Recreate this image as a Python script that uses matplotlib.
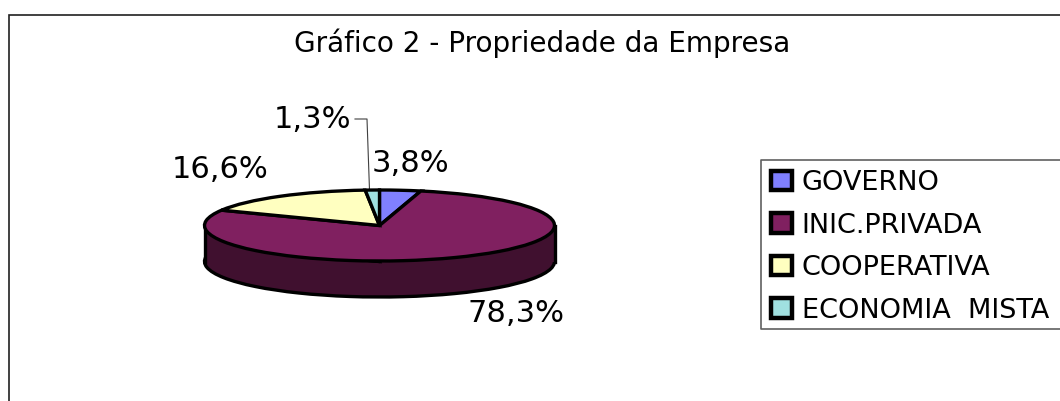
import matplotlib
matplotlib.use("Agg")
import matplotlib.pyplot as plt
import numpy as np
from matplotlib.patches import Rectangle

plt.rcParams['font.family'] = ['DejaVu Sans']

categories = ["GOVERNO", "INIC.PRIVADA", "COOPERATIVA", "ECONOMIA  MISTA"]
values = [3.8, 78.3, 16.6, 1.3]
value_labels = ["3,8%", "78,3%", "16,6%", "1,3%"]
title = "Gráfico 2 - Propriedade da Empresa"
top_colors = ["#8080FF", "#802060", "#FFFFC0", "#A0E0E0"]
side_color = "#40102F"

W, H = 1060, 401
fig = plt.figure(figsize=(W / 100, H / 100), dpi=100, facecolor="white")
bg = fig.add_axes([0, 0, 1, 1])
bg.set_xlim(0, W); bg.set_ylim(H, 0); bg.axis("off")

# outer frame: left and top only, running off the picture
bg.plot([8.5, 8.5, W + 5], [H + 5, 14.5, 14.5], color="#202020", lw=1.2, solid_joinstyle="miter")

# pie axes
rx, ry, depth = 175, 35.5, 36
cx, cy = 379.5, 225.5
ax = fig.add_axes([(cx - rx) / W, 1 - (cy + ry + depth) / H, 2 * rx / W, (2 * ry + depth) / H])
d = depth / ry
lw = 2.4
ax.pie(values, colors=[side_color] * 4, startangle=90, counterclock=False, center=(0, -d),
       radius=1, wedgeprops=dict(edgecolor="black", linewidth=lw, clip_on=False), normalize=True, frame=True)
ax.add_patch(Rectangle((-1, -d), 2, d, facecolor=side_color, edgecolor="none", zorder=2))
ax.plot([-1, -1], [-d, 0], color="black", lw=lw, zorder=3, clip_on=False)
ax.plot([1, 1], [-d, 0], color="black", lw=lw, zorder=3, clip_on=False)
wedges, _ = ax.pie(values, colors=top_colors, startangle=90, counterclock=False, center=(0, 0),
                   radius=1, wedgeprops=dict(edgecolor="black", linewidth=lw, clip_on=False, zorder=4),
                   normalize=True, frame=True)
ax.set_aspect("auto")
ax.set_xlim(-1, 1); ax.set_ylim(-1 - d, 1)
ax.axis("off")

# text
bg.text(542, 43, title, fontsize=20.1, ha="center", va="center", color="black")
label_pos = [(410, 164), (516, 313), (220, 170), (312, 120)]
for lab, (x, y) in zip(value_labels, label_pos):
    bg.text(x, y, lab, fontsize=22, ha="center", va="center", color="black", zorder=6)

# leader line for the smallest slice
bg.plot([355, 367, 369.5], [119, 119, 190], color="#404040", lw=0.8, zorder=5)

# legend box: left, top and bottom sides, open at the picture's edge
bg.plot([W + 5, 760.5, 760.5, W + 5], [159.5, 159.5, 329, 329], color="#606060", lw=1.2)
leg = bg.legend(wedges, categories, loc="upper left", bbox_to_anchor=(771 / W, 1 - 170 / H),
                bbox_transform=fig.transFigure, fontsize=19.5, frameon=False,
                borderpad=0, labelspacing=0.61, handlelength=0.78, handleheight=0.72,
                handletextpad=0.36, borderaxespad=0)
for h in leg.get_patches():
    h.set_linewidth(3.2)

fig.savefig("out.png", dpi=100, facecolor="white")
